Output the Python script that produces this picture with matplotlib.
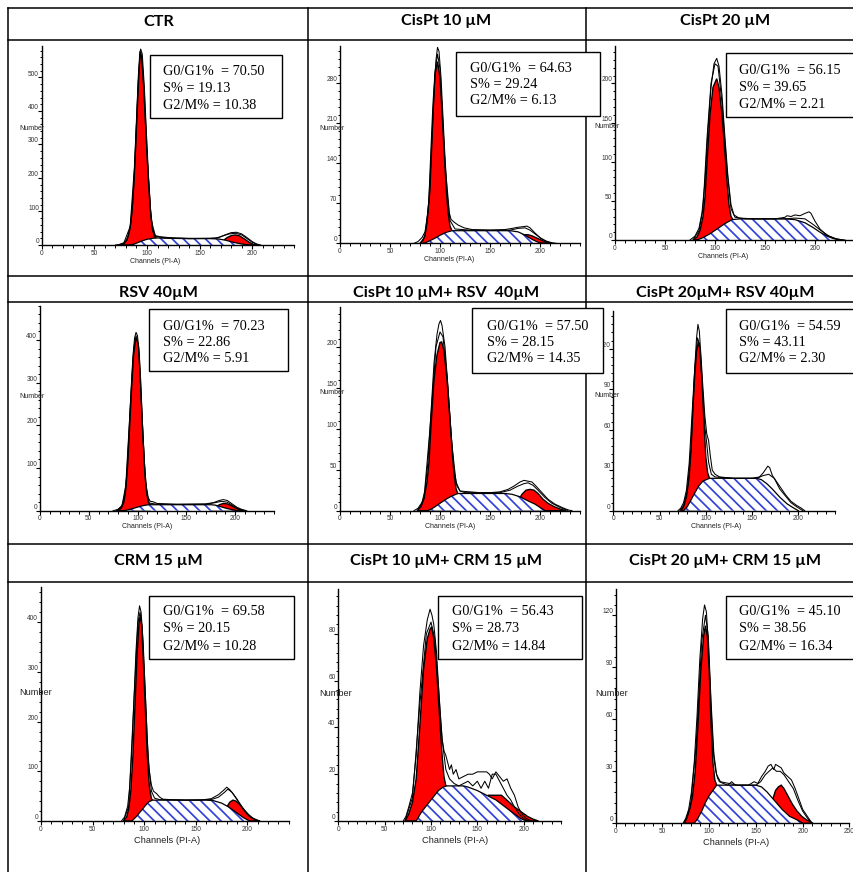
import matplotlib
matplotlib.use('Agg')
import matplotlib.pyplot as plt
from matplotlib.lines import Line2D
from matplotlib.patches import Rectangle
from matplotlib.ticker import MultipleLocator, FuncFormatter

plt.rcParams['hatch.linewidth'] = 1.25

W, H = 854, 872

# ---------------- data ----------------
TITLES = ["CTR", "CisPt 10 µM", "CisPt 20 µM",
          "RSV 40µM", "CisPt 10 µM+ RSV  40µM", "CisPt 20µM+ RSV 40µM",
          "CRM 15 µM", "CisPt 10 µM+ CRM 15 µM", "CisPt 20 µM+ CRM 15 µM"]
G0G1 = ["70.50", "64.63", "56.15", "70.23", "57.50", "54.59", "69.58", "56.43", "45.10"]
SPH = ["19.13", "29.24", "39.65", "22.86", "28.15", "43.11", "20.15", "28.73", "38.56"]
G2M = ["10.38", "6.13", "2.21", "5.91", "14.35", "2.30", "10.28", "14.84", "16.34"]

X_MAX = [240, 240, 250, 240, 240, 240, 240, 240, 250]
X_LABEL_MAX = [200, 200, 200, 200, 200, 200, 200, 200, 250]
Y_MAX = [595, 345, 248, 480, 248, 148, 470, 99, 135]
Y_MAJOR = [100, 70, 50, 100, 50, 30, 100, 20, 30]
Y_MINOR = [20, 14, 10, 20, 10, 6, 20, 4, 6]

# (channel, number) points
CTR_G1 = [(74,0),(78,4),(81,15),(84,50),(86,110),(88,210),(90,350),(92,490),(93.5,578),(95,560),(97,470),(99,340),(101,210),(103,110),(105,50),(107,26),(109,20),(109,0)]
CTR_S = [(84,0),(88,3),(92,8),(96,13),(100,17),(105,20),(110,21),(120,20),(140,19),(160,19),(168,18),(175,14),(182,8),(190,3),(197,0)]
CTR_G2 = [(168,0),(172,12),(176,22),(180,28),(184,30),(188,27),(193,17),(197,8),(201,2),(204,0)]
CTR_D1 = [(70,0),(75,2),(79,8),(82,25),(85,70),(87,150),(89,280),(91,440),(93,570),(94,585),(95.5,570),(97.5,470),(99.5,330),(101.5,200),(103.5,100),(105.5,45),(108,28),(112,25),(118,23),(125,21),(140,20),(160,20),(168,22),(174,30),(180,37),(185,38),(190,33),(195,22),(200,10),(204,3),(208,0)]
CTR_D2 = [(72,0),(78,6),(84,55),(88,230),(92,520),(94,575),(96,520),(100,270),(104,75),(108,26),(115,22),(140,19),(165,20),(172,27),(178,33),(184,35),(190,30),(195,19),(200,8),(206,0)]

P10_G1 = [(80,0),(83,5),(85,15),(87,35),(89,75),(91,160),(93,240),(95,295),(97.5,317),(100,290),(102,230),(104,165),(106,100),(108,55),(110,30),(112,22),(112,0)]
P10_S = [(84,0),(88,3),(94,8),(100,14),(106,19),(112,22),(130,22),(150,22),(170,22),(178,20),(183,16),(188,11),(193,6),(198,2),(202,0)]
P10_G2 = [(176,0),(180,8),(184,15),(188,15),(192,13),(197,9),(202,5),(206,2),(211,0)]
P10_D1 = [(74,0),(78,3),(82,10),(85,20),(88,55),(90,110),(92,190),(94,260),(96,320),(97.5,342),(99,335),(101,290),(103,220),(105,150),(107,90),(109,55),(111,42),(114,37),(118,32),(124,27),(132,24),(150,23),(165,24),(172,26),(178,28),(183,29),(187,30),(190,27),(195,18),(200,10),(206,4),(212,1),(216,0)]
P10_D2 = [(80,0),(85,12),(90,90),(95,300),(97.5,330),(100,305),(105,140),(110,40),(115,25),(130,23),(170,23),(178,26),(185,27),(190,23),(196,15),(202,7),(208,2),(212,0)]

P20_G1 = [(78,0),(82,4),(85,12),(88,30),(90,55),(92,100),(95,160),(98,195),(101.7,206),(104,195),(107,160),(110,110),(112,75),(114,45),(116,30),(118,26),(118,0)]
P20_S = [(82,0),(88,3),(95,8),(102,14),(110,21),(117,26),(125,27),(150,27),(170,27),(180,26),(190,22),(198,16),(205,10),(212,5),(218,2),(224,0)]
P20_G2 = []
P20_D1 = [(75,0),(80,5),(84,15),(87,35),(90,75),(93,140),(96,195),(99,225),(101.7,232),(104,222),(107,185),(110,130),(113,80),(116,45),(119,32),(124,28),(140,27),(160,27),(170,29),(172,31),(176,30),(180,32),(185,31),(190,34),(194,36),(196,34),(200,24),(205,14),(212,6),(220,2),(228,0)]
P20_D2 = [(78,0),(84,12),(88,40),(92,130),(96,200),(100,225),(103,222),(107,175),(112,90),(116,40),(120,29),(130,27),(170,27),(180,28),(190,27),(198,20),(206,12),(214,5),(222,1),(230,0)]

RSV_G1 = [(79,0),(83,5),(86,20),(88,50),(90,110),(92,200),(94,290),(96,365),(98,400),(99,404),(101,385),(103,310),(105,200),(107,110),(109,50),(111,20),(113,14),(113,0)]
RSV_S = [(86,0),(92,3),(98,7),(104,11),(111,14),(130,14),(160,14),(175,14),(180,13),(186,9),(192,5),(198,2),(202,0)]
RSV_G2 = [(176,0),(180,8),(184,14),(188,17),(192,16),(196,12),(200,7),(204,3),(208,0)]
RSV_D1 = [(75,0),(80,3),(84,12),(87,35),(89,85),(91,170),(93,265),(95,350),(97,405),(98.5,418),(100,410),(102,360),(104,260),(106,160),(108,80),(110,35),(113,22),(116,21),(120,17),(140,15),(170,16),(178,19),(184,24),(188,26),(192,24),(197,16),(202,8),(207,3),(212,0)]
RSV_D2 = [(78,0),(84,10),(88,60),(92,220),(96,380),(98.5,410),(101,390),(104,250),(108,70),(112,18),(120,15),(170,15),(180,19),(186,22),(192,20),(198,12),(204,4),(210,0)]

P10R_G1 = [(77,0),(81,5),(84,15),(87,35),(89,60),(91,103),(94,160),(97,190),(100,205),(101.7,206),(104,195),(107,160),(110,110),(112,75),(114,45),(116,27),(118,20),(118,0)]
P10R_S = [(88,0),(94,4),(100,9),(106,14),(112,18),(118,21),(130,21),(150,21),(165,21),(172,20),(180,17),(188,12),(195,8),(200,4),(205,0)]
P10R_G2 = [(174,0),(178,12),(182,20),(186,25),(190,26),(194,25),(198,21),(203,14),(208,9),(214,5),(220,2),(226,0)]
P10R_D1 = [(74,0),(78,3),(82,10),(85,25),(88,60),(91,120),(94,180),(97,215),(99,228),(100.5,232),(102,226),(105,200),(108,150),(111,95),(114,50),(117,30),(120,24),(125,22),(135,22),(150,22),(160,23),(168,26),(174,30),(180,35),(184,37),(188,36),(192,35),(196,30),(202,22),(208,14),(215,8),(222,4),(228,1),(232,0)]
P10R_D2 = [(78,0),(84,15),(90,100),(96,200),(100,218),(103,212),(107,165),(112,80),(116,35),(120,24),(140,22),(160,22),(170,25),(178,30),(184,33),(188,34),(193,31),(198,25),(205,16),(212,9),(220,4),(228,0)]

P20R_G1 = [(73,0),(76,3),(79,10),(82,25),(84,45),(86,75),(88,100),(90,118),(92,125),(94,118),(96,95),(98,65),(100,40),(102,28),(104,24),(104,0)]
P20R_S = [(76,0),(80,3),(84,8),(88,13),(92,18),(97,22),(104,24),(120,24),(140,24),(155,24),(160,23),(166,20),(172,16),(180,10),(188,5),(195,2),(200,0)]
P20R_G2 = []
P20R_D1 = [(70,0),(73,2),(76,6),(79,15),(82,35),(85,70),(88,105),(90,128),(91.5,138),(93,133),(95,112),(97,90),(99,70),(101,57),(103,52),(105,40),(107,30),(110,27),(115,25),(130,24),(150,24),(158,25),(162,28),(165,31),(167,33),(169,32),(172,26),(176,22),(180,18),(186,12),(192,7),(198,4),(203,2),(207,0)]
P20R_D2 = [(72,0),(76,4),(80,15),(84,45),(88,105),(91,128),(93,124),(96,95),(99,62),(101,50),(103,36),(106,27),(110,25),(130,24),(155,24),(162,26),(168,27),(174,24),(180,16),(186,11),(192,6),(198,3),(205,0)]

CRM_G1 = [(80,0),(83,8),(85,25),(87,60),(89,130),(91,230),(93,330),(95,400),(96,411),(97.5,395),(99,330),(101,230),(103,130),(105,70),(107,45),(108,42),(108,0)]
CRM_S = [(88,0),(92,8),(96,18),(100,28),(104,38),(108,42),(120,42),(140,42),(160,42),(167,41),(175,36),(182,28),(190,16),(196,7),(202,0)]
CRM_G2 = [(174,0),(177,15),(180,28),(183,38),(186,42),(189,40),(193,32),(197,22),(201,13),(205,6),(209,2),(212,0)]
CRM_D1 = [(78,0),(81,8),(84,30),(86,70),(88,140),(90,240),(92,340),(94,410),(95.5,433),(97,420),(99,360),(101,260),(103,160),(105,100),(107,72),(109,60),(112,55),(115,48),(118,44),(125,43),(140,42),(155,42),(165,45),(172,53),(177,62),(180,68),(183,63),(187,52),(192,36),(197,20),(202,9),(207,3),(212,0)]
CRM_D2 = [(80,0),(85,30),(90,240),(94,400),(96,420),(98,390),(101,260),(104,120),(107,60),(110,46),(115,43),(140,42),(165,43),(172,48),(178,58),(181,64),(185,58),(190,44),(195,28),(200,14),(205,5),(210,0)]

P10C_G1 = [(72,0),(76,3),(80,8),(84,18),(88,41),(92,65),(96,78),(99,82),(100.7,83),(103,78),(106,65),(108,52),(110,40),(112,28),(114,19),(116,15),(117,15),(117,0)]
P10C_S = [(84,0),(90,4),(96,7),(102,10),(108,13),(113,14.5),(117,15),(125,15),(135,15),(140,14.5),(150,13),(160,11),(170,9),(180,6),(190,3),(197,1),(203,0)]
P10C_G2 = [(160,0),(162,11),(168,11),(176,11),(183,8.5),(190,6),(197,4),(204,2),(210,0.8),(216,0)]
P10C_D1 = [(70,0),(73,2),(76,6),(80,12),(84,28),(88,55),(92,75),(96,86),(99,90.5),(101,88),(103,84),(106,72),(108,58),(110,45),(112,35),(114,30),(116,28),(118,25),(120,22),(122,24),(124,20),(127,22),(130,18),(135,19),(140,20),(145,20),(150,21),(155,21),(160,21),(163,20),(166,18),(170,21),(174,19),(178,17),(182,18),(186,14),(190,11),(194,6),(198,3),(203,1),(208,0)]
P10C_D2 = [(72,0),(80,10),(88,50),(95,80),(100,85),(104,78),(108,58),(112,35),(116,22),(120,18),(125,16),(130,15),(135,16),(140,17),(145,15),(150,17),(154,14),(158,17),(162,14),(166,20),(170,20),(174,17),(178,14),(182,11),(186,9),(190,6),(195,3),(200,1),(205,0)]

P20C_G1 = [(73,0),(76,3),(79,8),(82,15),(85,30),(88,57),(91,88),(94,108),(96,114),(98,108),(100,88),(102,57),(104,35),(106,25),(108,22),(108,0)]
P20C_S = [(84,0),(88,3),(92,7),(96,12),(100,16),(104,19),(108,22),(120,22),(140,22),(150,22),(156,21),(162,18),(170,13),(178,8),(186,4),(194,2),(200,0)]
P20C_G2 = [(165,0),(168,14),(171,19),(174,21),(177,22),(180,20),(184,16),(189,11),(194,7),(199,4),(204,2),(208,1),(211,0)]
P20C_D1 = [(72,0),(75,3),(78,8),(81,18),(84,35),(87,62),(90,95),(93,118),(95,126),(97,122),(99,105),(101,80),(103,55),(105,38),(107,30),(109,26),(111,24),(115,23),(120,22),(124,24),(128,22),(135,22),(142,22),(148,24),(152,23),(156,27),(160,30),(163,33),(166,34),(169,31),(171,34),(174,33),(177,32),(180,29),(184,27),(188,25),(192,20),(196,14),(200,8),(205,4),(210,0)]
P20C_D2 = [(74,0),(80,10),(86,45),(92,105),(96,120),(99,108),(102,70),(105,40),(108,28),(112,24),(130,22),(150,22),(155,24),(160,28),(164,30),(168,32),(172,30),(176,30),(180,28),(185,24),(190,20),(195,13),(200,7),(205,3),(210,0)]

G1_ALL = [CTR_G1, P10_G1, P20_G1, RSV_G1, P10R_G1, P20R_G1, CRM_G1, P10C_G1, P20C_G1]
S_ALL = [CTR_S, P10_S, P20_S, RSV_S, P10R_S, P20R_S, CRM_S, P10C_S, P20C_S]
G2_ALL = [CTR_G2, P10_G2, P20_G2, RSV_G2, P10R_G2, P20R_G2, CRM_G2, P10C_G2, P20C_G2]
D1_ALL = [CTR_D1, P10_D1, P20_D1, RSV_D1, P10R_D1, P20R_D1, CRM_D1, P10C_D1, P20C_D1]
D2_ALL = [CTR_D2, P10_D2, P20_D2, RSV_D2, P10R_D2, P20R_D2, CRM_D2, P10C_D2, P20C_D2]

# ---------------- layout (pixels) ----------------
AX_X0 = [41.7, 340, 615, 40, 340, 613.3, 41, 338.3, 615.7]
AX_PXU = [1.053, 1.0, 1.0, 0.975, 1.0, 0.925, 1.032, 0.927, 0.935]
AX_Y0 = [245, 243.3, 240, 510.7, 510.7, 510.7, 821, 821, 823.3]
AX_YPX = [0.335, 0.573, 0.783, 0.4267, 0.82, 1.35, 0.497, 2.34, 1.733]
NUM_POS = [(32, 128), (331.7, 128), (607.5, 126.7), (32, 396.7), (331.7, 393), (607.5, 395.3),
           (35.3, 692), (335.3, 693.3), (611.3, 693.3)]
CH_POS = [(154.7, 261), (448.8, 259.3), (723.3, 256.7), (147.5, 526), (449.7, 526), (715.8, 526),
          (167, 840.7), (454.7, 840.7), (736.3, 842.7)]
BOX = [(150, 55, 282, 118), (456, 52, 600, 116), (726, 53, 900, 117),
       (149, 309, 288, 371), (472, 308, 603, 373), (726, 309, 900, 373),
       (149, 596, 294, 659), (438, 596, 582, 659), (726, 596, 900, 659)]
TXT_X = [163, 470, 739, 163, 487, 739, 163, 452, 739]
TXT_Y = [71.7, 68.3, 71, 326, 326, 326, 611.7, 611.7, 611.7]
LINE_SP = [16.7, 16, 16.6, 16.3, 16.3, 16.2, 17.2, 17.2, 17.2]
COL_C = [158.3, 446.5, 725]
ROW_BASE = [25.5, 296.5, 564.5]

RED = '#ff0000'
HATCH = '#3343d6'


def fx(x):
    return x / W


def fy(y):
    return 1 - y / H


fig = plt.figure(figsize=(W / 100, H / 100), dpi=100)

# table grid
for yy in [8, 40.5, 276, 302, 544, 582]:
    fig.add_artist(Line2D([fx(8), 1.0], [fy(yy), fy(yy)], transform=fig.transFigure,
                          color='black', lw=1.1, zorder=1))
for xx in [8, 308.5, 585.5]:
    fig.add_artist(Line2D([fx(xx), fx(xx)], [fy(8), 0.0], transform=fig.transFigure,
                          color='black', lw=1.1, zorder=1))

for i in range(9):
    r, c = divmod(i, 3)
    x0 = AX_X0[i]
    x1 = x0 + X_MAX[i] * AX_PXU[i]
    y0 = AX_Y0[i]
    ytop = y0 - Y_MAX[i] * AX_YPX[i]
    ax = fig.add_axes([fx(x0), fy(y0), (x1 - x0) / W, (y0 - ytop) / H])
    ax.patch.set_visible(False)
    ax.set_xlim(0, X_MAX[i])
    ax.set_ylim(0, Y_MAX[i])
    for s in ['top', 'right']:
        ax.spines[s].set_visible(False)
    for s in ['left', 'bottom']:
        ax.spines[s].set_linewidth(1.0)
    ax.xaxis.set_major_locator(MultipleLocator(50))
    ax.xaxis.set_minor_locator(MultipleLocator(10))
    lim = X_LABEL_MAX[i]
    ax.xaxis.set_major_formatter(FuncFormatter(lambda v, p, lim=lim: '%d' % v if v <= lim else ''))
    ax.yaxis.set_major_locator(MultipleLocator(Y_MAJOR[i]))
    ax.yaxis.set_minor_locator(MultipleLocator(Y_MINOR[i]))
    ax.tick_params(axis='x', which='major', direction='out', length=3.0, width=0.8, pad=0.3,
                   labelsize=4.7, labelcolor='#333333')
    ax.tick_params(axis='x', which='minor', direction='out', length=2.0, width=0.7)
    ax.tick_params(axis='y', which='major', direction='out', length=2.8, width=0.8, pad=-0.8,
                   labelsize=4.7, labelcolor='#333333')
    ax.tick_params(axis='y', which='minor', direction='out', length=1.6, width=0.7)
    for lb in ax.get_xticklabels() + ax.get_yticklabels():
        lb.set_family('Liberation Sans')
    for lb in ax.get_yticklabels():
        lb.set_va('bottom')

    # red G1 and G2 (baseline 0)
    gx = [p[0] for p in G1_ALL[i]]
    gy = [p[1] for p in G1_ALL[i]]
    ax.fill(gx, gy, facecolor=RED, edgecolor='black', lw=1.0, zorder=1)
    if G2_ALL[i]:
        g2x = [p[0] for p in G2_ALL[i]]
        g2y = [p[1] for p in G2_ALL[i]]
        ax.fill(g2x, g2y, facecolor=RED, edgecolor='black', lw=1.0, zorder=1)
    # S phase hatched
    sx = [p[0] for p in S_ALL[i]]
    sy = [p[1] for p in S_ALL[i]]
    ax.fill(sx, sy, facecolor='white', edgecolor=HATCH, hatch='\\\\\\', lw=0, zorder=1.2)
    ax.plot(sx, sy, color='black', lw=0.9, zorder=1.3)
    # data lines
    for dd in (D2_ALL[i], D1_ALL[i]):
        ax.plot([p[0] for p in dd], [p[1] for p in dd], color='black', lw=0.75, zorder=1.5)

    fsz = 6.7 if r == 2 else 5.0
    fig.text(fx(NUM_POS[i][0]), fy(NUM_POS[i][1]), 'Number', ha='center', va='center',
             fontsize=fsz, family='Liberation Sans', color='#222222', zorder=3)
    fig.text(fx(CH_POS[i][0]), fy(CH_POS[i][1]), 'Channels (PI-A)', ha='center', va='center',
             fontsize=fsz, family='Liberation Sans', color='#222222', zorder=3)

    # stats box
    bx1, by1, bx2, by2 = BOX[i]
    fig.add_artist(Rectangle((fx(bx1), fy(by2)), (bx2 - bx1) / W, (by2 - by1) / H,
                             transform=fig.transFigure, facecolor='white', edgecolor='black',
                             lw=1.0, zorder=5))
    lines = ['G0/G1%  = ' + G0G1[i], 'S% = ' + SPH[i], 'G2/M% = ' + G2M[i]]
    for k, t in enumerate(lines):
        fig.text(fx(TXT_X[i]), fy(TXT_Y[i] + k * LINE_SP[i]), t, ha='left', va='center',
                 fontsize=10.3, family='Liberation Serif', color='black', zorder=6)

    # title
    fig.text(fx(COL_C[c]), fy(ROW_BASE[r]), TITLES[i], ha='center', va='baseline',
             fontsize=11.6, fontweight='bold', family=['Lato', 'DejaVu Sans'], zorder=6)

fig.savefig('out.png', dpi=100)
